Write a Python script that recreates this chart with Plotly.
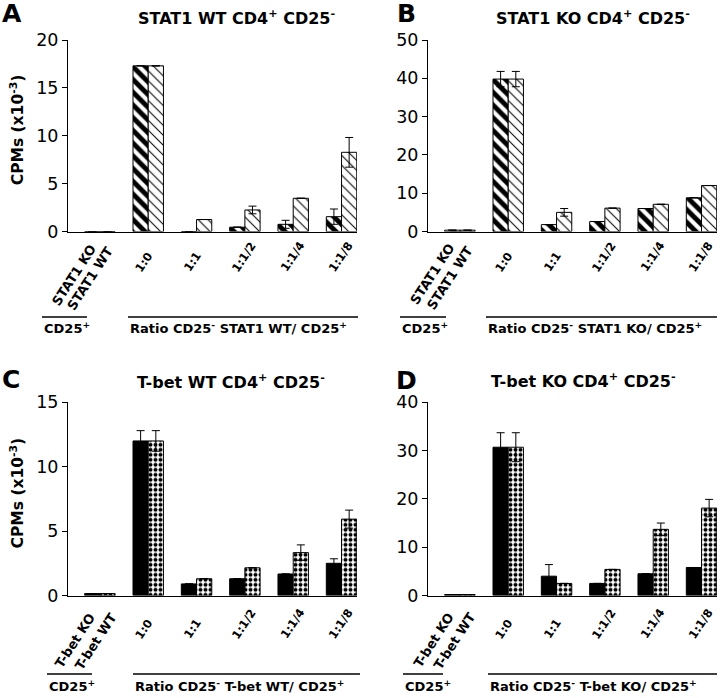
import plotly.graph_objects as go

W, H = 720, 698
FONT = "DejaVu Sans"

# ---------------- data ----------------
categories = ["CD25+", "1:0", "1:1", "1:1/2", "1:1/4", "1:1/8"]
ratio_labels = ["1:0", "1:1", "1:1/2", "1:1/4", "1:1/8"]

# Panel A: STAT1 WT CD4+ CD25- responders
a_dark = [0, 17.3, 0, 0.45, 0.75, 1.55]
a_dark_err = [0, 0, 0, 0, 0.42, 0.8]
a_light = [0, 17.3, 1.25, 2.25, 3.47, 8.27]
a_light_err = [0, 0, 0, 0.4, 0, 1.55]

# Panel B: STAT1 KO CD4+ CD25- responders
b_dark = [0.35, 39.8, 1.8, 2.6, 6.0, 8.8]
b_dark_err = [0, 2.0, 0, 0, 0, 0]
b_light = [0.35, 39.8, 5.0, 6.1, 7.1, 12.0]
b_light_err = [0, 2.0, 1.0, 0, 0, 0]

# Panel C: T-bet WT CD4+ CD25- responders
c_dark = [0.15, 12.0, 0.9, 1.3, 1.67, 2.5]
c_dark_err = [0, 0.8, 0, 0, 0, 0.35]
c_light = [0.15, 12.0, 1.3, 2.15, 3.33, 5.93]
c_light_err = [0, 0.8, 0, 0, 0.6, 0.7]

# Panel D: T-bet KO CD4+ CD25- responders
d_dark = [0.2, 30.7, 4.0, 2.5, 4.5, 5.8]
d_dark_err = [0, 3.0, 2.4, 0, 0, 0]
d_light = [0.2, 30.7, 2.5, 5.4, 13.7, 18.1]
d_light_err = [0, 3.0, 0, 0, 1.3, 1.8]

a_ticks = [0, 5, 10, 15, 20]
b_ticks = [0, 10, 20, 30, 40, 50]
c_ticks = [0, 5, 10, 15]
d_ticks = [0, 10, 20, 30, 40]

titles = ["STAT1 WT CD4<sup>+</sup> CD25<sup>-</sup>",
          "STAT1 KO CD4<sup>+</sup> CD25<sup>-</sup>",
          "T-bet WT CD4<sup>+</sup> CD25<sup>-</sup>",
          "T-bet KO CD4<sup>+</sup> CD25<sup>-</sup>"]
letters = ["A", "B", "C", "D"]
cd25_pos_ko = ["STAT1 KO", "STAT1 KO", "T-bet KO", "T-bet KO"]
cd25_pos_wt = ["STAT1 WT", "STAT1 WT", "T-bet WT", "T-bet WT"]
ratio_titles = ["Ratio CD25<sup>-</sup> STAT1 WT/ CD25<sup>+</sup>",
                "Ratio CD25<sup>-</sup> STAT1 KO/ CD25<sup>+</sup>",
                "Ratio CD25<sup>-</sup> T-bet WT/ CD25<sup>+</sup>",
                "Ratio CD25<sup>-</sup> T-bet KO/ CD25<sup>+</sup>"]
ytitle = "CPMs (x10<sup>-3</sup>)"

# ---------------- layout geometry (pixels) ----------------
def px(x):
    return x / W

def py(y):
    return 1 - y / H

panels = [
    dict(dark=a_dark, dark_err=a_dark_err, light=a_light, light_err=a_light_err,
         ticks=a_ticks, x0=68, x1=357, ytop=40, ybot=231.5, style="hatch",
         title_x=236, title_y=18, letter_x=0, letter_y=14, ytitle=True,
         lab_bot=277, ko_c=(73.5, 275), wt_c=(90, 278.5), line_y=317, cd_line=(42, 87),
         ratio_line=(128, 358), text_y=328),
    dict(dark=b_dark, dark_err=b_dark_err, light=b_light, light_err=b_light_err,
         ticks=b_ticks, x0=428, x1=717, ytop=40, ybot=231.5, style="hatch",
         title_x=593, title_y=18, letter_x=395, letter_y=14, ytitle=False,
         lab_bot=277, ko_c=(432, 274.5), wt_c=(449.5, 278.5), line_y=317, cd_line=(400, 446),
         ratio_line=(486, 717), text_y=328),
    dict(dark=c_dark, dark_err=c_dark_err, light=c_light, light_err=c_light_err,
         ticks=c_ticks, x0=68, x1=357, ytop=402.3, ybot=595.5, style="dots",
         title_x=231, title_y=381, letter_x=0, letter_y=379, ytitle=True,
         lab_bot=644, ko_c=(75, 640.5), wt_c=(95.5, 641), line_y=674, cd_line=(47, 92),
         ratio_line=(133, 360), text_y=686),
    dict(dark=d_dark, dark_err=d_dark_err, light=d_light, light_err=d_light_err,
         ticks=d_ticks, x0=428, x1=717, ytop=402.3, ybot=595.5, style="dots",
         title_x=583, title_y=380, letter_x=394, letter_y=380, ytitle=False,
         lab_bot=644, ko_c=(433.5, 640.5), wt_c=(454, 641), line_y=674, cd_line=(403, 443),
         ratio_line=(488, 717), text_y=686),
]

XRANGE = [-0.66, 5.32]

fig = go.Figure()
annotations = []
shapes = []
layout_axes = {}

for k, p in enumerate(panels, start=1):
    xa = "x" if k == 1 else f"x{k}"
    ya = "y" if k == 1 else f"y{k}"
    if p["style"] == "hatch":
        dark_marker = dict(color="white", line=dict(color="black", width=1),
                           pattern=dict(shape="\\", fgcolor="black", bgcolor="white",
                                        size=9, solidity=0.55))
        light_marker = dict(color="white", line=dict(color="black", width=1),
                            pattern=dict(shape="\\", fgcolor="black", bgcolor="white",
                                         size=7, solidity=0.15))
    else:
        dark_marker = dict(color="black", line=dict(color="black", width=1))
        light_marker = dict(color="white", line=dict(color="black", width=1),
                            pattern=dict(shape=".", fgcolor="black", bgcolor="white",
                                         size=5, solidity=0.5))
    err_style = dict(type="data", color="black", thickness=1, width=4, visible=True)
    fig.add_trace(go.Bar(x=categories, y=p["dark"], marker=dark_marker,
                         error_y=dict(array=p["dark_err"], **err_style),
                         xaxis=xa, yaxis=ya, showlegend=False))
    fig.add_trace(go.Bar(x=categories, y=p["light"], marker=light_marker,
                         error_y=dict(array=p["light_err"], **err_style),
                         xaxis=xa, yaxis=ya, showlegend=False))

    xkey = "xaxis" if k == 1 else f"xaxis{k}"
    ykey = "yaxis" if k == 1 else f"yaxis{k}"
    layout_axes[xkey] = dict(domain=[px(p["x0"]), px(p["x1"])], anchor=ya, automargin=False,
                             type="category", range=XRANGE, showticklabels=False,
                             ticks="", showline=True, linecolor="black", linewidth=1,
                             showgrid=False, zeroline=False, fixedrange=True)
    layout_axes[ykey] = dict(domain=[py(p["ybot"]), py(p["ytop"])], anchor=xa, automargin=False,
                             range=[0, p["ticks"][-1]], tickvals=p["ticks"],
                             ticks="outside", ticklen=5, tickwidth=1, tickcolor="black",
                             showline=True, linecolor="black", linewidth=1,
                             showgrid=False, zeroline=False, fixedrange=True,
                             tickfont=dict(family=FONT, size=17.5, color="black"))

    # panel title and letter
    annotations.append(dict(text=f"<b>{titles[k-1]}</b>", x=px(p["title_x"]), y=py(p["title_y"]),
                            xref="paper", yref="paper", xanchor="center", yanchor="middle",
                            showarrow=False, font=dict(family=FONT, size=16, color="black")))
    annotations.append(dict(text=f"<b>{letters[k-1]}</b>", x=px(p["letter_x"]), y=py(p["letter_y"]),
                            xref="paper", yref="paper", xanchor="left", yanchor="middle",
                            showarrow=False, font=dict(family=FONT, size=25, color="black")))
    if p["ytitle"]:
        annotations.append(dict(text=f"<b>{ytitle}</b>", x=px(17.5), y=py((p["ytop"] + p["ybot"]) / 2 - 6),
                                xref="paper", yref="paper", xanchor="center", yanchor="middle",
                                textangle=-90, showarrow=False,
                                font=dict(family=FONT, size=15.5, color="black")))
    # rotated category labels
    for lab in ratio_labels:
        annotations.append(dict(text=f"<b>{lab}</b>", x=lab, xref=xa, y=py(p["lab_bot"]), yref="paper",
                                xanchor="left", yanchor="bottom", xshift=-19, textangle=-56,
                                showarrow=False, font=dict(family=FONT, size=11.5, color="black")))
    for txt, c in [(cd25_pos_ko[k-1], p["ko_c"]), (cd25_pos_wt[k-1], p["wt_c"])]:
        annotations.append(dict(text=f"<b>{txt}</b>", x=px(c[0]), y=py(c[1]),
                                xref="paper", yref="paper", xanchor="center", yanchor="middle",
                                textangle=-57, showarrow=False,
                                font=dict(family=FONT, size=13, color="black")))
    # bracket lines and group captions
    for (l0, l1) in [p["cd_line"], p["ratio_line"]]:
        shapes.append(dict(type="line", xref="paper", yref="paper", x0=px(l0), x1=px(l1),
                           y0=py(p["line_y"]), y1=py(p["line_y"]),
                           line=dict(color="black", width=1.5)))
    annotations.append(dict(text="<b>CD25<sup>+</sup></b>", x=px(p["cd_line"][0]), y=py(p["text_y"]),
                            xref="paper", yref="paper", xanchor="left", yanchor="middle",
                            showarrow=False, font=dict(family=FONT, size=13, color="black")))
    annotations.append(dict(text=f"<b>{ratio_titles[k-1]}</b>", x=px(p["ratio_line"][0]), y=py(p["text_y"]),
                            xref="paper", yref="paper", xanchor="left", yanchor="middle",
                            showarrow=False, font=dict(family=FONT, size=13, color="black")))

fig.update_layout(template="none", width=W, height=H, margin=dict(l=0, r=0, t=0, b=0, autoexpand=False),
                  paper_bgcolor="white", plot_bgcolor="white",
                  barmode="group", bargap=0.37, bargroupgap=0,
                  showlegend=False, annotations=annotations, shapes=shapes,
                  font=dict(family=FONT, color="black"), **layout_axes)

fig.write_html("out.html", config={"displayModeBar": False},
               post_script="document.body.style.margin='0';document.body.style.padding='0';")
